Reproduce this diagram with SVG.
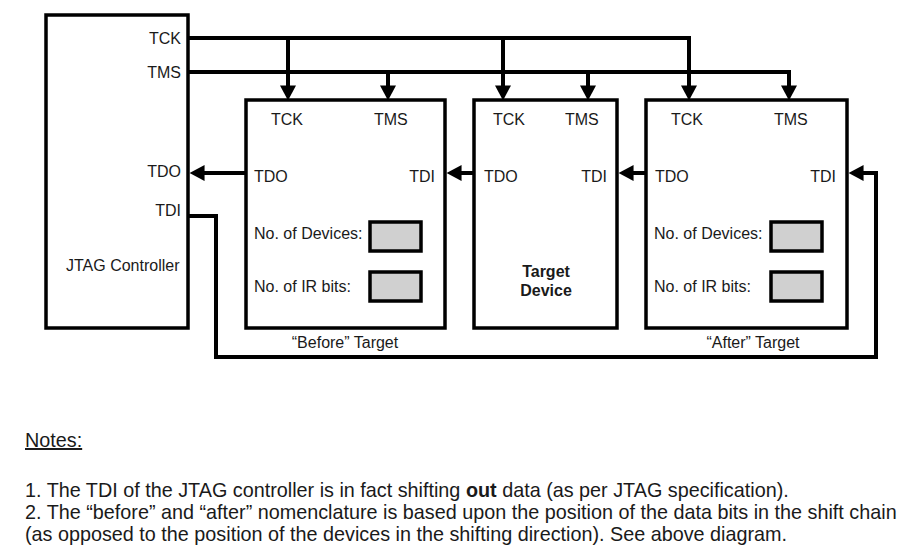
<svg xmlns="http://www.w3.org/2000/svg" width="912" height="549" viewBox="0 0 912 549">
<defs>
<marker id="ah" markerUnits="userSpaceOnUse" markerWidth="16" markerHeight="16" viewBox="0 0 14 15" refX="8" refY="7.5" orient="auto">
<path d="M0,0 L14,7.5 L0,15 z" fill="#000"/>
</marker>
<style>
.box{fill:#fff;stroke:#000;stroke-width:3.5}
.reg{fill:#d0d0d0;stroke:#000;stroke-width:3.5}
.w{fill:none;stroke:#000;stroke-width:4}
.a{marker-end:url(#ah)}
text{font-family:"Liberation Sans",Arial,sans-serif;font-size:16px;fill:#1a1a1a}
.r{text-anchor:end}
.m{text-anchor:middle}
.b{font-weight:bold}
.n{font-size:19.8px}
.u{text-decoration:underline}
</style>
</defs>
<rect width="912" height="549" fill="#fff"/>

<g id="controller">
<rect class="box" x="46" y="15" width="142" height="313"/>
<text class="r" x="181" y="44">TCK</text>
<text class="r" x="181" y="78">TMS</text>
<text class="r" x="181" y="177">TDO</text>
<text class="r" x="181" y="216">TDI</text>
<text x="66" y="271">JTAG Controller</text>
</g>

<g id="before">
<rect class="box" x="246" y="100" width="199" height="228"/>
<text x="271" y="125">TCK</text>
<text x="374" y="125">TMS</text>
<text x="254" y="182">TDO</text>
<text class="r" x="435" y="182">TDI</text>
<text x="254" y="239">No. of Devices:</text>
<rect class="reg" x="370" y="222" width="51" height="29"/>
<text x="254" y="292">No. of IR bits:</text>
<rect class="reg" x="370" y="272" width="51" height="29"/>
<text class="m" x="345" y="348">“Before” Target</text>
</g>

<g id="target">
<rect class="box" x="474" y="100" width="143" height="228"/>
<text x="493" y="125">TCK</text>
<text x="565" y="125">TMS</text>
<text x="484" y="182">TDO</text>
<text class="r" x="607" y="182">TDI</text>
<text class="m b" x="546" y="277">Target</text>
<text class="m b" x="546" y="296">Device</text>
</g>

<g id="after">
<rect class="box" x="646" y="100" width="201" height="228"/>
<text x="671" y="125">TCK</text>
<text x="774" y="125">TMS</text>
<text x="655" y="182">TDO</text>
<text class="r" x="836" y="182">TDI</text>
<text x="654" y="239">No. of Devices:</text>
<rect class="reg" x="771" y="222" width="51" height="29"/>
<text x="654" y="292">No. of IR bits:</text>
<rect class="reg" x="771" y="272" width="51" height="29"/>
<text class="m" x="753" y="348">“After” Target</text>
</g>

<g id="connectors">
<path class="w" d="M188,38 H689 V96"/>
<path class="w" d="M188,72 H789 V96"/>
<path class="w a" d="M288,38 V94"/>
<path class="w a" d="M388,72 V94"/>
<path class="w a" d="M503,38 V94"/>
<path class="w a" d="M588,72 V94"/>
<path class="w a" d="M689,38 V94"/>
<path class="w a" d="M789,72 V94"/>
<path class="w a" d="M246,173 H196"/>
<path class="w a" d="M474,173 H453"/>
<path class="w a" d="M646,173 H625"/>
<path class="w a" d="M188,216 H216 V357 H876 V173 H855"/>
</g>

<g id="notes">
<text class="n u" x="25" y="447">Notes:</text>
<text class="n" x="25" y="497">1. The TDI of the JTAG controller is in fact shifting <tspan class="b">out</tspan> data (as per JTAG specification).</text>
<text class="n" x="25" y="519">2. The “before” and “after” nomenclature is based upon the position of the data bits in the shift chain</text>
<text class="n" x="25" y="541">(as opposed to the position of the devices in the shifting direction). See above diagram.</text>
</g>
</svg>
